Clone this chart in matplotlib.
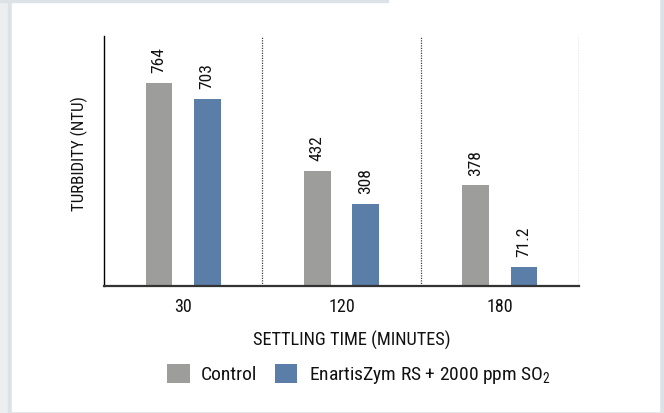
import matplotlib
matplotlib.use("Agg")
import matplotlib.pyplot as plt
from matplotlib import font_manager
from matplotlib.patches import Rectangle, Patch
import numpy as np

# données
temps = ["30", "120", "180"]
controle = [764, 432, 378]
enzyme = [703, 308, 71.2]
labels_controle = ["764", "432", "378"]
labels_enzyme = ["703", "308", "71.2"]

gris = "#9d9d9c"
bleu = "#5a7ea7"
texte = "#111111"

# police étroite si disponible
polices = font_manager.fontManager.ttflist
noms = {f.name for f in polices}
police = None
for nom in ["Roboto Condensed", "Liberation Sans Narrow", "Open Sans Condensed", "Noto Sans Condensed"]:
    if nom in noms:
        police = dict(family=nom)
        break
if police is None:
    etroites = [f.name for f in polices if f.stretch in ("condensed", "semi-condensed", 87.5, 75)]
    if etroites:
        police = dict(family=etroites[0], stretch="condensed")
    else:
        police = dict(family="Roboto")

# indice du SO2 dans la même police
plt.rcParams["mathtext.fontset"] = "custom"
plt.rcParams["mathtext.rm"] = police["family"]
plt.rcParams["mathtext.it"] = police["family"]
plt.rcParams["mathtext.default"] = "regular"

W, H = 664, 413
fig = plt.figure(figsize=(W / 100, H / 100), dpi=100, facecolor="#edeef0")

# cadre blanc et bordures
fig.patches.append(Rectangle((8 / W, 0), 656 / W, 1, transform=fig.transFigure,
                             color="#dde2e6", zorder=-3))
fig.patches.append(Rectangle((12 / W, 2 / H), (659 - 12) / W, 1,
                             transform=fig.transFigure, color="white", zorder=-2))
fig.patches.append(Rectangle((0, (H - 1.5) / H), 388 / W, 1.5 / H, transform=fig.transFigure,
                             color="#dde2e6", zorder=-1))

ax = fig.add_axes([104 / W, (H - 286) / H, (579 - 104) / W, (286 - 36) / H])
ax.set_facecolor("none")

x = np.arange(len(temps))
larg = 0.169
dec = 0.152
b1 = ax.bar(x - dec, controle, larg, color=gris, zorder=2)
b2 = ax.bar(x + dec, enzyme, larg, color=bleu, zorder=2)

for barres, etiq in ((b1, labels_controle), (b2, labels_enzyme)):
    for b, t in zip(barres, etiq):
        ax.annotate(t, (b.get_x() + b.get_width() / 2, b.get_height()),
                    xytext=(0, 7), textcoords="offset points", rotation=90,
                    ha="center", va="bottom", fontsize=12.5, color=texte, **police)

ax.set_xlim(-0.5, 2.5)
ax.set_ylim(0, 940)

# séparateurs pointillés
for xs in [0.5, 1.5, 2.5]:
    ax.axvline(xs, color="#444444", linestyle=(0, (1, 1)), linewidth=0.9, zorder=1)

ax.spines["top"].set_visible(False)
ax.spines["right"].set_visible(False)
ax.spines["left"].set_color("black")
ax.spines["left"].set_linewidth(1.0)
ax.spines["bottom"].set_color("#333333")
ax.spines["bottom"].set_linewidth(1.6)

ax.set_yticks([])
ax.set_xticks(x)
ax.set_xticklabels(temps, fontsize=13, color=texte, **police)
ax.tick_params(axis="x", length=0, pad=9)
ax.set_xticks([1, 2], minor=True)
ax.tick_params(axis="x", which="minor", length=3, width=0.8, color="#333333",
               direction="inout", top=True)

ax.set_xlabel("SETTLING TIME (MINUTES)", fontsize=13.2, color=texte, **police)
ax.xaxis.set_label_coords((352 - 104) / (579 - 104), -45 / 250)
ax.set_ylabel("TURBIDITY (NTU)", fontsize=12.2, color=texte, **police)
ax.yaxis.set_label_coords(-16 / (579 - 104), (286 - 153.5) / 250)

poignees = [Patch(facecolor=gris), Patch(facecolor=bleu)]
fig.legend(poignees, ["Control", "EnartisZym RS + 2000 ppm SO$_2$"],
           loc="center", bbox_to_anchor=(359 / W, (H - 375) / H), ncol=2,
           frameon=False, prop=dict(size=14, **police), handlelength=1.15,
           handleheight=1.15, handletextpad=0.6, columnspacing=0.9,
           labelcolor=texte)

fig.savefig("out.png", dpi=100, facecolor=fig.get_facecolor())
